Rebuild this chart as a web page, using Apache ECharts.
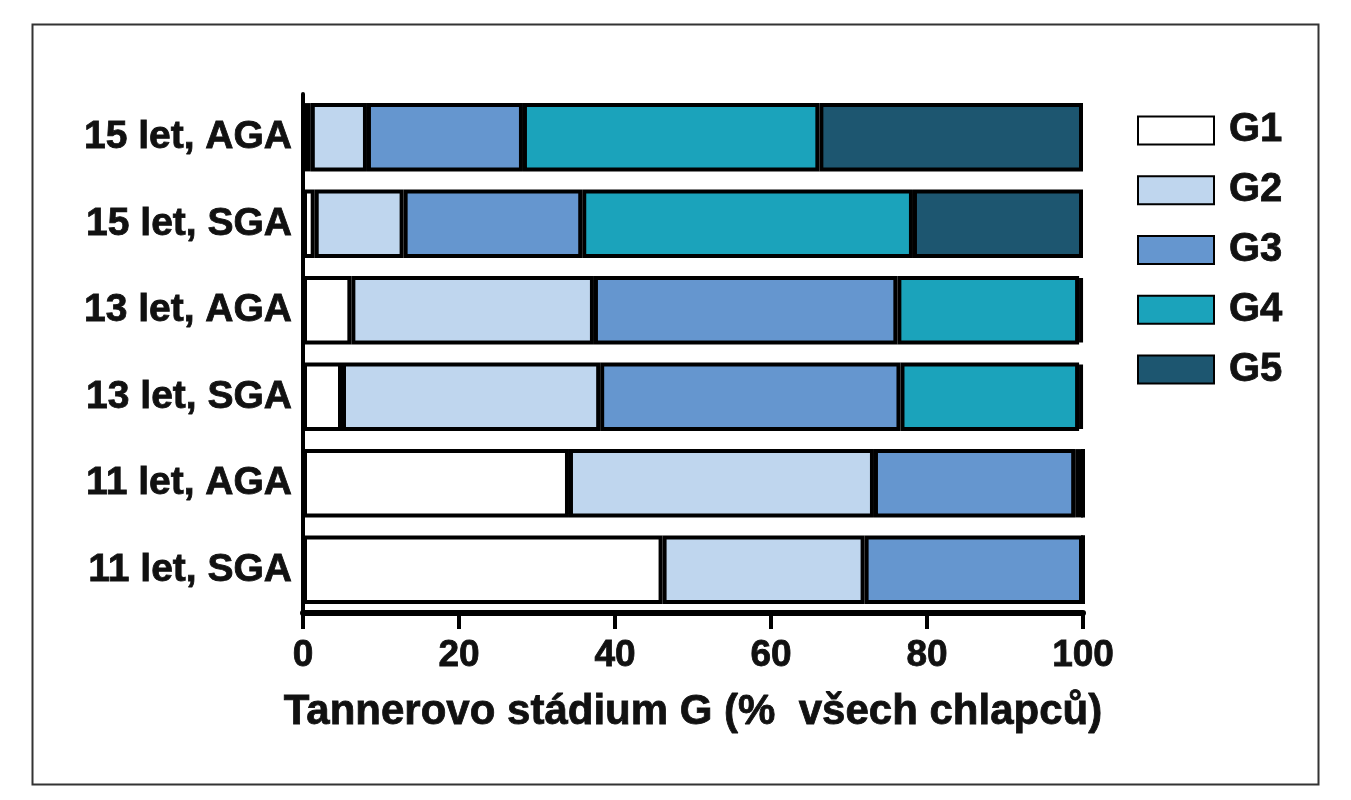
<!DOCTYPE html>
<html>
<head>
<meta charset="utf-8">
<script src="https://cdn.jsdelivr.net/npm/echarts@6/dist/echarts.min.js"></script>
<style>
  html, body { margin: 0; padding: 0; background: #fff; }
  #main { width: 1351px; height: 800px; }
</style>
</head>
<body>
<div id="main"></div>
<script>
// kategorie shora dolů
const categories = ['15 let, AGA', '15 let, SGA', '13 let, AGA', '13 let, SGA', '11 let, AGA', '11 let, SGA'];
const stages = ['G1', 'G2', 'G3', 'G4', 'G5'];
// podíl chlapců v jednotlivých stádiích (%)
const g1 = [1, 1.5, 6.2, 5, 34.1, 46.1];
const g2 = [7.2, 11.4, 31.1, 33.1, 39.1, 25.9];
const g3 = [20, 22.9, 38.9, 38.5, 25.8, 28];
const g4 = [38, 42.4, 23.3, 22.9, 1, 0];
const g5 = [33.8, 21.8, 0.5, 0.5, 0, 0];
const xTicks = [0, 20, 40, 60, 80, 100];

const values = [g1, g2, g3, g4, g5];
const colors = ['#ffffff', '#bfd6ee', '#6596cf', '#1ba3bb', '#1d5670'];

const font = '"Liberation Sans", Arial, sans-serif';
// tučnější písmo jako v originálu
const heavy = { fontFamily: font, fontWeight: 'bold', color: '#111', textBorderColor: '#111', textBorderWidth: 0.8 };

const myChart = echarts.init(document.getElementById('main'));

const series = stages.map((name, i) => ({
  name: name,
  type: 'bar',
  stack: 'total',
  data: values[i],
  barCategoryGap: '21%',
  itemStyle: {
    color: colors[i],
    borderColor: '#000',
    borderWidth: 4
  }
}));

myChart.setOption({
  animation: false,
  backgroundColor: '#fff',
  grid: { left: 303, right: 268, top: 94, bottom: 187 },
  legend: {
    orient: 'vertical',
    left: 1137,
    top: 110,
    padding: 0,
    itemWidth: 76,
    itemHeight: 28,
    itemGap: 19,
    data: stages,
    icon: 'rect',
    textStyle: Object.assign({ fontSize: 40, padding: [0, 0, 0, 10] }, heavy)
  },
  xAxis: {
    type: 'value',
    min: 0,
    max: 100,
    interval: 20,
    name: 'Tannerovo stádium G (%  všech chlapců)',
    nameLocation: 'middle',
    nameGap: 78,
    nameTextStyle: Object.assign({ fontSize: 42 }, heavy),
    splitLine: { show: false },
    axisLine: { show: true, lineStyle: { color: '#000', width: 6 } },
    axisTick: { show: true, length: 16, lineStyle: { color: '#000', width: 4 } },
    axisLabel: Object.assign({
      margin: 24,
      fontSize: 37,
      formatter: v => xTicks.includes(v) ? String(v) : ''
    }, heavy)
  },
  yAxis: {
    type: 'category',
    inverse: true,
    data: categories,
    axisLine: { show: true, lineStyle: { color: '#000', width: 4 } },
    axisTick: { show: false },
    axisLabel: Object.assign({ margin: 11, fontSize: 39 }, heavy)
  },
  graphic: [{
    type: 'rect',
    left: 30,
    top: 22,
    shape: { width: 1286, height: 760 },
    style: { fill: 'none', stroke: '#333', lineWidth: 2 },
    z: -1
  }],
  series: series
});
</script>
</body>
</html>
